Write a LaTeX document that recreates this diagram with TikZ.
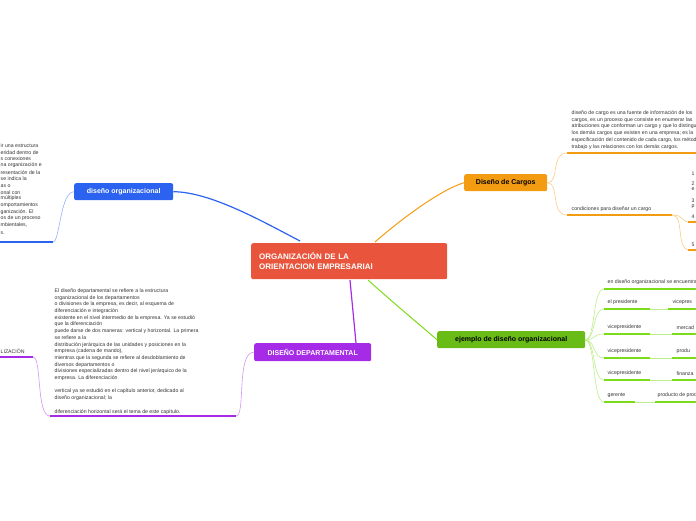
\documentclass[tikz,border=0pt]{standalone}
\usepackage{fontspec}
\setmainfont{Liberation Sans}
\begin{document}
\begin{tikzpicture}[x=1pt,y=-1pt,
  box/.style={rounded corners=2pt,text=white,font=\bfseries\fontsize{7}{8}\selectfont,inner sep=0pt,anchor=north west},
  sm/.style={font=\fontsize{5.2}{6.7}\selectfont,anchor=south west,inner sep=0.5pt,align=left,text=black!80},
  ul/.style={line width=2pt},
  cn/.style={line width=0.6pt}]
\useasboundingbox (0,0) rectangle (696,520);
\clip (0,0) rectangle (696,520);
\definecolor{bl}{HTML}{2B63F0}\definecolor{or}{HTML}{F39C12}\definecolor{gr}{HTML}{7CDC1A}
\definecolor{pu}{HTML}{A52BE6}\definecolor{rd}{HTML}{E8553C}
% central
\node[box,fill=rd,minimum width=194pt,minimum height=36pt,align=left,text width=180pt,inner xsep=8pt,font=\bfseries\fontsize{8}{10}\selectfont] (c) at (251,243) {ORGANIZACIÓN DE LA\\ORIENTACION EMPRESARIAl};
% main nodes
\node[box,fill=bl,minimum width=99pt,minimum height=17pt] (d) at (74,183) {diseño organizacional};
\node[box,fill=or,minimum width=83pt,minimum height=17pt,text=black] (g) at (464,174) {Diseño de Cargos};
\node[box,fill=gr!85!black,minimum width=148pt,minimum height=17pt,text=black] (e) at (437,331) {ejemplo de diseño organizacional};
\node[box,fill=pu,minimum width=117pt,minimum height=18pt] (p) at (254,343) {DISEÑO DEPARTAMENTAL};
% main connectors
\draw[bl,cn,line width=1.2pt] (d.east) .. controls (210,192) and (260,220) .. (300,241);
\draw[or,cn,line width=1pt] (375,242) .. controls (400,220) and (440,190) .. (g.west);
\draw[gr,cn,line width=1pt] (368,280) .. controls (390,300) and (420,325) .. (e.west);
\draw[pu,cn,line width=1.2pt] (350,280) -- (356,343);
% left blue text
\node[sm] at (0,148) {ir una estructura};
\node[sm] at (0,155) {eridad dentro de};
\node[sm] at (0,161) {s conexiones};
\node[sm] at (0,168) {na organización e};
\node[sm] at (0,175) {resentación de la};
\node[sm] at (0,181) {se indica la};
\node[sm] at (0,188) {as o};
\node[sm] at (0,195) {onal con};
\node[sm] at (0,201) {múltiples};
\node[sm] at (0,208) {omportamientos};
\node[sm] at (0,215) {ganización. El};
\node[sm] at (0,221) {os de un proceso};
\node[sm] at (0,228) {mbientales,};
\node[sm] at (0,235) {s.};
\coordinate (bu) at (53,242);
\draw[bl,ul] (0,242) -- (bu);
\draw[bl!50,cn] (d.west) .. controls (60,192) and (60,242) .. (bu);
% orange
\node[sm,anchor=north west] at (571,110) {diseño de cargo es una fuente de información de los\\cargos, es un proceso que consiste en enumerar las\\atribuciones que conforman un cargo y que lo distinguen de\\los demás cargos que existen en una empresa; es la\\especificación del contenido de cada cargo, los métodos de\\trabajo y las relaciones con los demás cargos.};
\coordinate (o1) at (567,153);\coordinate (o2) at (567,215);
\draw[or,ul] (o1) -- (696,153);
\node[sm] at (571,212) {condiciones para diseñar un cargo};
\draw[or,ul] (o2) -- (672,215);
\draw[or!50,cn] (g.east) .. controls (560,183) and (550,153) .. (o1);
\draw[or!50,cn] (g.east) .. controls (560,183) and (550,215) .. (o2);
\draw[or!50,cn] (672,215) .. controls (685,215) and (675,250) .. (690,250);
\draw[or!50,cn] (672,215) .. controls (685,215) and (680,222) .. (690,222);
\draw[or,ul] (688,222) -- (696,222);
\draw[or,ul] (688,250) -- (696,250);
\node[sm] at (691,176) {1};
\node[sm] at (691,186) {2};\node[sm] at (691,191) {e};
\node[sm] at (691,203) {3};\node[sm] at (691,209) {p};
\node[sm] at (691,219) {4};
\node[sm] at (691,247) {5};
% green
\foreach \y/\a/\b/\c/\d in {303/650/el presidente/672/vicepres, 328/650/vicepresidente/676/mercad, 352/650/vicepresidente/676/produ, 374/650/vicepresidente/676/finanza}{
  \draw[gr,ul] (604,\y+6) -- (\a,\y+6);
  \draw[gr,ul] (\c-4,\y+6) -- (696,\y+6);
  \draw[gr!50,cn] (\a,\y+6) -- (\c-4,\y+6);
  \draw[gr!50,cn] (585,340) .. controls (596,340) and (592,\y+6) .. (604,\y+6);
  \node[sm] at (607,\y+2) {\b};
  \node[sm] at (\c,\y+2) {\d};
}
\node[sm] at (607,285) {en diseño organizacional se encuentran};
\draw[gr,ul] (604,289) -- (696,289);
\draw[gr!50,cn] (585,340) .. controls (596,340) and (592,289) .. (604,289);
\node[sm] at (607,398) {gerente};
\node[sm] at (657,398) {producto de producción};
\draw[gr,ul] (604,402) -- (635,402);
\draw[gr,ul] (655,402) -- (696,402);
\draw[gr!50,cn] (635,402) -- (655,402);
\draw[gr!50,cn] (585,340) .. controls (596,340) and (592,402) .. (604,402);
% purple
\node[sm,anchor=north west] at (54,288) {El diseño departamental se refiere a la estructura\\organizacional de los departamentos\\o divisiones de la empresa, es decir, al esquema de\\diferenciación e integración\\existente en el nivel intermedio de la empresa. Ya se estudió\\que la diferenciación\\puede darse de dos maneras: vertical y horizontal. La primera\\se refiere a la\\distribución jerárquica de las unidades y posiciones en la\\empresa  (cadena de mando),\\mientras que la segunda se refiere al desdoblamiento de\\diversos departamentos o\\divisiones especializadas dentro del nivel jerárquico de la\\empresa. La diferenciación\\[6.7pt]vertical ya se estudió en el capítulo anterior, dedicado al\\diseño organizacional; la\\[6.7pt]diferenciación horizontal será el tema de este capítulo.};
\coordinate (pu1) at (236,416);
\draw[pu,ul] (50,416) -- (pu1);
\draw[pu!50,cn] (p.west) .. controls (236,352) and (246,416) .. (pu1);
\node[sm] at (0,354) {LIZACIÓN};
\draw[pu,ul] (0,357) -- (33,357);
\draw[pu!50,cn] (33,357) .. controls (42,357) and (36,416) .. (50,416);
\end{tikzpicture}
\end{document}
